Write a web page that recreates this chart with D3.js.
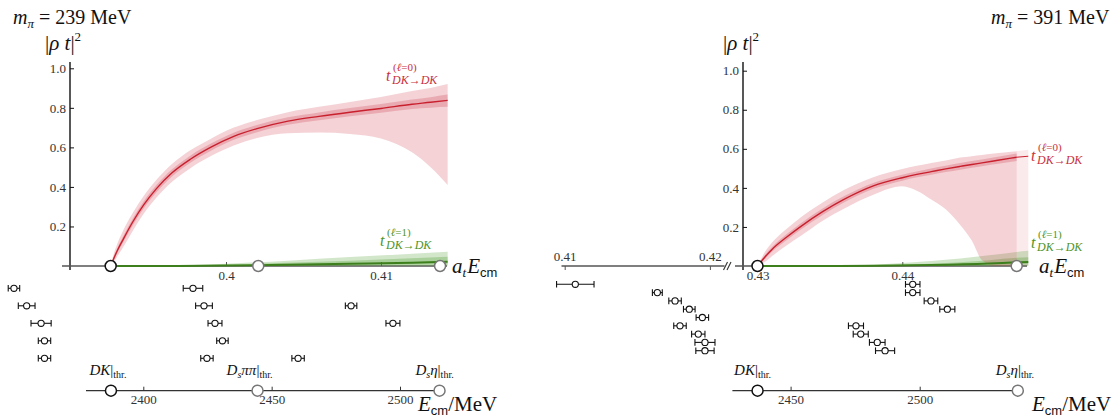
<!DOCTYPE html>
<html><head><meta charset="utf-8">
<script src="https://cdn.jsdelivr.net/npm/d3@7"></script>
<style>
body{margin:0;background:#fff;}
svg{display:block;}
text{font-family:"Liberation Serif","DejaVu Serif",serif;fill:#111;}
</style></head><body>
<svg id="c" width="1118" height="417"></svg>
<script>
// ---------- LEFT PANEL (m_pi = 239 MeV) ----------
const leftE       = [0.39256,0.3927,0.3930,0.3934,0.3940,0.3947,0.3955,0.3965,0.3977,0.3990,0.4005,0.4020,0.4040,0.4060,0.4080,0.4100,0.4120,0.4132,0.4143];
const leftS0      = [0,.027,.08,.14,.225,.31,.39,.47,.54,.60,.656,.695,.733,.757,.778,.797,.818,.828,.838];
const leftS0InHi  = [0,.035,.092,.155,.242,.328,.408,.488,.558,.618,.674,.713,.752,.777,.799,.819,.842,.854,.867];
const leftS0InLo  = [0,.019,.068,.125,.208,.292,.372,.452,.522,.582,.638,.677,.714,.737,.757,.775,.794,.801,.805];
const leftS0OutHi = [0,.045,.115,.185,.27,.355,.435,.515,.585,.643,.70,.738,.778,.805,.83,.855,.885,.90,.92];
const leftS0OutLo = [0,.012,.05,.10,.18,.265,.345,.425,.495,.555,.61,.648,.672,.675,.668,.645,.575,.50,.41];

const leftPE      = [0.39256,0.3960,0.4000,0.4040,0.4080,0.4120,0.4143];
const leftP1      = [0,0,0.002,0.006,0.011,0.017,0.022];
const leftP1InHi  = [0,0.001,0.006,0.016,0.027,0.039,0.047];
const leftP1InLo  = [0,0,0,0.001,0.003,0.006,0.008];
const leftP1OutHi = [0,0.002,0.012,0.027,0.045,0.062,0.072];
const leftP1OutLo = [0,0,0,0,0,0,0];

const leftLevelE   = [0.38632,0.39787, 0.38714,0.39858,0.40807, 0.38807,0.39929,0.41077, 0.38829,0.39977, 0.38829,0.39877,0.40465];
const leftLevelErr = [0.00037,0.00063, 0.00054,0.00054,0.00037, 0.00065,0.00045,0.00045, 0.0004,0.00037, 0.0004,0.0004,0.0004];
const leftLevelRow = [0,0, 1,1,1, 2,2,2, 3,3, 4,4,4];

const leftYTicks  = [0.2,0.4,0.6,0.8,1.0];
const leftXTicks  = [0.40,0.41];
const leftMeVTicks= [2400,2450,2500];
const leftThrE    = [0.39256,0.40208,0.41381];
const leftThrMeV  = [2387.4,2444.5,2515.4];
const leftThrName = [["DK",""],["D","ππ"],["D","η"]];

// ---------- RIGHT PANEL (m_pi = 391 MeV) ----------
const rightE       = [0.4300,0.4305,0.4310,0.4320,0.4330,0.4345,0.4360,0.4380,0.4400,0.4410,0.4420,0.4430,0.4440,0.4448,0.4455,0.4465,0.4479];
const rightS0      = [0,.045,.085,.147,.203,.278,.342,.41,.452,.469,.483,.497,.51,.52,.528,.54,.557];
const rightS0InHi  = [0,.055,.097,.162,.219,.295,.358,.425,.467,.484,.499,.513,.527,.537,.545,.558,.576];
const rightS0InLo  = [0,.035,.073,.132,.187,.261,.326,.395,.437,.454,.467,.481,.493,.503,.511,.522,.538];
const rightS0OutHi = [0,.07,.12,.19,.25,.325,.39,.455,.497,.513,.528,.54,.555,.562,.568,.577,.588];
const rightS0OutLo = [0,.02,.05,.105,.155,.232,.295,.365,.408,.385,.34,.29,.21,.13,.03,0,0];
const rightExtE    = [0.4479,0.4487];
const rightExtS0   = [0.557,0.562];
const rightExtHi   = [0.588,0.595];
const rightExtLo   = [0,0];

const rightPE      = [0.4300,0.4340,0.4380,0.4420,0.4460,0.4479,0.4487];
const rightP1      = [0,0,0.001,0.005,0.013,0.019,0.021];
const rightP1InHi  = [0,0,0.003,0.012,0.03,0.042,0.045];
const rightP1InLo  = [0,0,0,0.001,0.004,0.007,0.008];
const rightP1OutHi = [0,0.001,0.007,0.025,0.055,0.072,0.078];
const rightP1OutLo = [0,0,0,0,0,0,0];

const rightLevelE   = [0.41073,0.41638,0.41760,0.41858,0.41948,0.41794,0.41920,0.41966,0.41966,
                       0.44072,0.44072,0.44198,0.44311,0.43680,0.43713,0.43827,0.43881];
const rightLevelErr = [0.00129,0.00034,0.00043,0.0004,0.00043,0.00043,0.00046,0.00069,0.00063,
                       0.0005,0.0005,0.00047,0.00052,0.00052,0.00052,0.00054,0.00066];
const rightLevelRow = [0,1,2,3,4,5,6,7,8, 0,1,2,3,5,6,7,8];

const rightYTicks   = [0.2,0.4,0.6,0.8,1.0];
const rightXTicksA  = [0.41,0.42];
const rightXTicksB  = [0.43,0.44];
const rightMeVTicks = [2450,2500];
const rightThrE     = [0.4300,0.4479];
const rightThrMeV   = [2437.2,2538.0];
const rightThrName  = [["DK",""],["D","η"]];

// ---------- DRAW ----------
const svg = d3.select("#c");
const RED="#c9202e", GREEN="#3d7f1c";
const SERIF = '"Liberation Serif","DejaVu Serif",serif';

function zip(E, ...cols){ return E.map((e,i)=>({E:e, v:cols.map(c=>c[i])})); }
function styleAxis(ax, col){
  ax.select(".domain").remove();
  ax.selectAll(".tick line").attr("stroke",col);
  ax.selectAll(".tick text").style("font-family",SERIF).style("font-size","13px").style("fill","#333");
}
function drawBands(g, x, y, E, c, inHi, inLo, outHi, outLo, col, op1, op2){
  const d = zip(E, c, inHi, inLo, outHi, outLo);
  const a = (hi,lo)=>d3.area().x(p=>x(p.E)).y0(p=>y(p.v[lo])).y1(p=>y(p.v[hi])).curve(d3.curveMonotoneX);
  g.append("path").attr("d", a(3,4)(d)).attr("fill", col).attr("fill-opacity", op1);
  g.append("path").attr("d", a(1,2)(d)).attr("fill", col).attr("fill-opacity", op2);
}
function drawLine(g, x, y, E, c, col, w){
  const d = zip(E, c);
  g.append("path").attr("d", d3.line().x(p=>x(p.E)).y(p=>y(p.v[0])).curve(d3.curveMonotoneX)(d))
    .attr("fill","none").attr("stroke",col).attr("stroke-width",w);
}
function thrCircle(g, cx, cy, black){
  g.append("circle").attr("cx",cx).attr("cy",cy).attr("r",5.5)
    .attr("fill","#fff").attr("stroke", black?"#111":"#777").attr("stroke-width",1.5);
}
function levels(g, x, E, err, row, y0, dy){
  E.forEach((e,i)=>{
    const cy = y0 + dy*row[i], x1 = x(e-err[i]), x2 = x(e+err[i]);
    g.append("line").attr("x1",x1).attr("x2",x2).attr("y1",cy).attr("y2",cy).attr("stroke","#111").attr("stroke-width",1.1);
    [x1,x2].forEach(xx=>g.append("line").attr("x1",xx).attr("x2",xx).attr("y1",cy-3.3).attr("y2",cy+3.3).attr("stroke","#111").attr("stroke-width",1.1));
    g.append("circle").attr("cx",x(e)).attr("cy",cy).attr("r",3.1).attr("fill","#fff").attr("stroke","#111").attr("stroke-width",1.1);
  });
}
function curveLabel(g, x, yb, col, ell){
  g.append("text").attr("x",x).attr("y",yb).style("fill",col).attr("font-style","italic").attr("font-size",16).text("t");
  g.append("text").attr("x",x+7).attr("y",yb-10).style("fill",col).attr("font-size",11)
    .text("(").append("tspan").attr("font-style","italic").text("ℓ").select(function(){return this.parentNode;})
    .append("tspan").text("="+ell+")");
  g.append("text").attr("x",x+6).attr("y",yb+3).style("fill",col).attr("font-size",12).attr("font-style","italic").text("DK→DK");
}
function thrLabel(g, cx, yb, name){
  const t = g.append("text").attr("x",cx).attr("y",yb).attr("text-anchor","middle").attr("font-size",15);
  t.append("tspan").attr("font-style","italic").text(name[0]);
  if(name[1]){
    t.append("tspan").attr("font-style","italic").attr("font-size",10).attr("dy",3).text("s");
    t.append("tspan").attr("font-style","italic").attr("dy",-3).text(name[1]);
  }
  t.append("tspan").text("|");
  t.append("tspan").attr("font-size",10).attr("dy",3).text("thr.");
}
function atEcm(g, x, y){
  const t = g.append("text").attr("x",x).attr("y",y).attr("font-size",21);
  t.append("tspan").attr("font-style","italic").text("a");
  t.append("tspan").attr("font-style","italic").attr("font-size",13).attr("dy",4).text("t");
  t.append("tspan").attr("font-style","italic").attr("dy",-4).attr("dx",1).text("E");
  t.append("tspan").attr("font-family","Liberation Sans, DejaVu Sans, sans-serif").attr("font-size",13).attr("dy",4).text("cm");
}
function EcmMeV(g, x, y){
  const t = g.append("text").attr("x",x).attr("y",y).attr("font-size",21);
  t.append("tspan").attr("font-style","italic").text("E");
  t.append("tspan").attr("font-family","Liberation Sans, DejaVu Sans, sans-serif").attr("font-size",13).attr("dy",4).text("cm");
  t.append("tspan").attr("dy",-4).text("/MeV");
}
function rhoT(g, x, y){
  const t = g.append("text").attr("x",x).attr("y",y).attr("font-size",21);
  t.append("tspan").text("|");
  t.append("tspan").attr("font-style","italic").text("ρ t");
  t.append("tspan").text("|");
  t.append("tspan").attr("font-size",13).attr("dy",-9).text("2");
}
function title(g, x, y, val){
  const t = g.append("text").attr("x",x).attr("y",y).attr("font-size",20);
  t.append("tspan").attr("font-style","italic").text("m");
  t.append("tspan").attr("font-style","italic").attr("font-size",13).attr("dy",4).text("π");
  t.append("tspan").attr("dy",-4).text(" = "+val+" MeV");
}
function yAxis(g, y, x0, ticks){
  const ax = g.append("g").attr("transform",`translate(${x0},0)`)
    .call(d3.axisLeft(y).tickValues(ticks).tickFormat(d3.format(".1f")).tickSizeInner(-4).tickSizeOuter(0).tickPadding(4));
  styleAxis(ax, "#111");
  g.append("line").attr("x1",x0).attr("x2",x0).attr("y1",62).attr("y2",270).attr("stroke","#111").attr("stroke-width",1.4);
}

// LEFT
{
  const g = svg.append("g");
  const x = d3.scaleLinear().domain([0.40,0.41]).range([226,381]);
  const y = d3.scaleLinear().domain([0,1]).range([266,68.3]);
  const m = d3.scaleLinear().domain([2400,2500]).range([143.3,400]);

  title(g, 13, 24, "239");
  rhoT(g, 45, 50);
  yAxis(g, y, 70, leftYTicks);

  g.append("line").attr("x1",62).attr("x2",447).attr("y1",y(0)).attr("y2",y(0)).attr("stroke","#555").attr("stroke-width",1.3);
  const ax = g.append("g").attr("transform",`translate(0,${y(0)})`)
    .call(d3.axisBottom(x).tickValues(leftXTicks).tickFormat(d=>d3.format(".2~f")(d)).tickSizeInner(-4).tickSizeOuter(0).tickPadding(5));
  styleAxis(ax, "#555");

  drawBands(g, x, y, leftPE, leftP1, leftP1InHi, leftP1InLo, leftP1OutHi, leftP1OutLo, "#4d9a2a", 0.25, 0.3);
  drawBands(g, x, y, leftE, leftS0, leftS0InHi, leftS0InLo, leftS0OutHi, leftS0OutLo, "#cc3246", 0.22, 0.25);
  drawLine(g, x, y, leftPE, leftP1, GREEN, 2);
  drawLine(g, x, y, leftE, leftS0, RED, 1.4);
  leftThrE.forEach((e,i)=>thrCircle(g, x(e), y(0), i===0));

  curveLabel(g, 386, 81, "#c8303e", 0);
  curveLabel(g, 380, 246, "#4f9427", 1);
  atEcm(g, 452, 273);

  levels(g, x, leftLevelE, leftLevelErr, leftLevelRow, 288.3, 17.5);

  g.append("line").attr("x1",86).attr("x2",440).attr("y1",390.7).attr("y2",390.7).attr("stroke","#333").attr("stroke-width",1.3);
  const am = g.append("g").attr("transform","translate(0,390.7)")
    .call(d3.axisBottom(m).tickValues(leftMeVTicks).tickFormat(d3.format("d")).tickSizeInner(-4).tickSizeOuter(0).tickPadding(4));
  styleAxis(am, "#333");
  leftThrMeV.forEach((e,i)=>thrCircle(g, m(e), 390.7, i===0));
  thrLabel(g, m(leftThrMeV[0])-3, 375, leftThrName[0]);
  thrLabel(g, m(leftThrMeV[1])-8, 375, leftThrName[1]);
  thrLabel(g, m(leftThrMeV[2])-5, 375, leftThrName[2]);
  EcmMeV(g, 418, 411);
}

// RIGHT
{
  const g = svg.append("g");
  const xA = d3.scaleLinear().domain([0.41,0.42]).range([564.7,709.9]);
  const xB = d3.scaleLinear().domain([0.43,0.44]).range([757.5,902.3]);
  const x = E => E < 0.425 ? xA(E) : xB(E);
  const y = d3.scaleLinear().domain([0,1]).range([266,70.7]);
  const m = d3.scaleLinear().domain([2450,2500]).range([790.6,919.7]);

  title(g, 991, 24, "391");
  rhoT(g, 723, 50);
  yAxis(g, y, 743, rightYTicks);

  g.append("line").attr("x1",561.5).attr("x2",724.5).attr("y1",y(0)).attr("y2",y(0)).attr("stroke","#555").attr("stroke-width",1.3);
  const aA = g.append("g").attr("transform",`translate(0,${y(0)})`)
    .call(d3.axisTop(xA).tickValues(rightXTicksA).tickFormat(d3.format(".2f")).tickSizeInner(-4).tickSizeOuter(0).tickPadding(5));
  styleAxis(aA, "#555");
  [0,3.5].forEach(o=>g.append("line").attr("x1",723.5+o).attr("x2",727.5+o).attr("y1",270).attr("y2",262).attr("stroke","#333").attr("stroke-width",1.1));
  g.append("line").attr("x1",735).attr("x2",1027).attr("y1",y(0)).attr("y2",y(0)).attr("stroke","#555").attr("stroke-width",1.3);
  const aB = g.append("g").attr("transform",`translate(0,${y(0)})`)
    .call(d3.axisBottom(xB).tickValues(rightXTicksB).tickFormat(d3.format(".2f")).tickSizeInner(-4).tickSizeOuter(0).tickPadding(5));
  styleAxis(aB, "#555");

  const ext = zip(rightExtE, rightExtHi, rightExtLo);
  g.append("path").attr("d", d3.area().x(p=>xB(p.E)).y0(p=>y(p.v[1])).y1(p=>y(p.v[0]))(ext)).attr("fill","#cc3246").attr("fill-opacity",0.1);
  drawBands(g, xB, y, rightPE, rightP1, rightP1InHi, rightP1InLo, rightP1OutHi, rightP1OutLo, "#4d9a2a", 0.25, 0.3);
  drawBands(g, xB, y, rightE, rightS0, rightS0InHi, rightS0InLo, rightS0OutHi, rightS0OutLo, "#cc3246", 0.22, 0.25);
  drawLine(g, xB, y, rightPE, rightP1, GREEN, 2);
  drawLine(g, xB, y, rightE, rightS0, RED, 1.4);
  drawLine(g, xB, y, rightExtE, rightExtS0, RED, 1.0);
  rightThrE.forEach((e,i)=>thrCircle(g, xB(e), y(0), i===0));

  curveLabel(g, 1031, 161, "#c8303e", 0);
  curveLabel(g, 1031, 248, "#4f9427", 1);
  atEcm(g, 1039, 273);

  levels(g, x, rightLevelE, rightLevelErr, rightLevelRow, 284.3, 8.3);

  g.append("line").attr("x1",732.4).attr("x2",1017.7).attr("y1",390.7).attr("y2",390.7).attr("stroke","#333").attr("stroke-width",1.3);
  const am = g.append("g").attr("transform","translate(0,390.7)")
    .call(d3.axisBottom(m).tickValues(rightMeVTicks).tickFormat(d3.format("d")).tickSizeInner(-4).tickSizeOuter(0).tickPadding(4));
  styleAxis(am, "#333");
  rightThrMeV.forEach((e,i)=>thrCircle(g, m(e), 390.7, i===0));
  thrLabel(g, m(rightThrMeV[0])-5, 375, rightThrName[0]);
  thrLabel(g, m(rightThrMeV[1])-3, 375, rightThrName[1]);
  EcmMeV(g, 1032, 411);
}
</script>
</body></html>
